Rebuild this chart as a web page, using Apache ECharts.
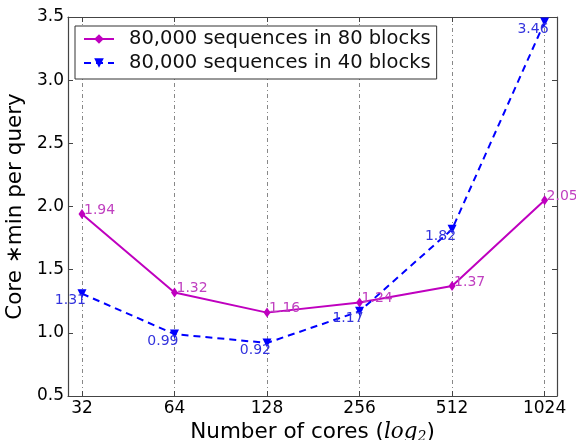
<!DOCTYPE html>
<html>
<head>
<meta charset="utf-8">
<script src="https://cdn.jsdelivr.net/npm/echarts@6/dist/echarts.min.js"></script>
<style>
  html, body { margin: 0; padding: 0; background: #fff; }
  #main { width: 576px; height: 440px; }
</style>
</head>
<body>
<div id="main"></div>
<script>
var cores = [32, 64, 128, 256, 512, 1024];
var blocks80 = [1.94, 1.32, 1.16, 1.24, 1.37, 2.05];
var blocks40 = [1.31, 0.99, 0.92, 1.17, 1.82, 3.46];
var yTicks = [0.5, 1.0, 1.5, 2.0, 2.5, 3.0, 3.5];

var font = 'DejaVu Sans';
var purple = '#bf00bf';
var blue = '#0000ff';

function pairs (vals) {
    return cores.map(function (c, i) { return [c, vals[i]] })
}

var myChart = echarts.init(document.getElementById('main'))
myChart.setOption({
    animation: false,
    textStyle: { fontFamily: font },
    grid: { left: 68, right: 19, top: 17, bottom: 44, outerBoundsMode: 'none', containLabel: false },
    legend: {
        left: 75,
        top: 26,
        orient: 'vertical',
        backgroundColor: '#fff',
        borderColor: '#333',
        borderWidth: 1,
        borderRadius: 0,
        padding: [3, 6, 6, 8],
        itemGap: 4,
        itemWidth: 30,
        itemHeight: 12,
        textStyle: { fontSize: 19.5, color: '#111', fontFamily: font, padding: [0, 0, 0, 10] },
        data: ['80,000 sequences in 80 blocks', '80,000 sequences in 40 blocks']
    },
    xAxis: [{
        type: 'log',
        logBase: 2,
        min: 28.82,
        max: 1123.6,
        name: 'Number of cores ({i|log}{s|2})',
        nameLocation: 'middle',
        nameGap: 19,
        nameTextStyle: {
            fontSize: 21.5, color: '#000', fontFamily: font,
            rich: {
                i: { fontSize: 21.5, fontStyle: 'italic', fontFamily: 'DejaVu Serif', color: '#000' },
                s: { fontSize: 14, fontStyle: 'italic', fontFamily: 'DejaVu Serif', color: '#000', verticalAlign: 'bottom', padding: [9, 0, 0, 0] }
            }
        },
        axisLine: { lineStyle: { color: '#444', width: 1.2 } },
        axisTick: { inside: true, length: 5, lineStyle: { color: '#444' } },
        axisLabel: {
            fontSize: 17, color: '#000', margin: 4, showMinLabel: false, showMaxLabel: false,
            formatter: function (v) { return Math.round(v) }
        },
        splitLine: { show: true, lineStyle: { color: '#888', type: [4, 3, 1, 3], width: 1 } }
    }, {
        type: 'log',
        logBase: 2,
        min: 28.82,
        max: 1123.6,
        position: 'top',
        axisLine: { lineStyle: { color: '#444', width: 1.2 } },
        axisTick: { inside: true, length: 5, lineStyle: { color: '#444' } },
        axisLabel: { show: false },
        splitLine: { show: false }
    }],
    yAxis: [{
        type: 'value',
        min: yTicks[0],
        max: yTicks[yTicks.length - 1],
        interval: 0.5,
        name: 'Core \u2217min per query',
        nameLocation: 'middle',
        nameGap: 32,
        nameTextStyle: { fontSize: 21.5, color: '#000', fontFamily: font },
        axisLine: { show: true, lineStyle: { color: '#444', width: 1.2 } },
        axisTick: { show: true, inside: true, length: 5, lineStyle: { color: '#444' } },
        axisLabel: { fontSize: 17, color: '#000', margin: 4, formatter: function (v) { return v.toFixed(1) } },
        splitLine: { show: false }
    }, {
        type: 'value',
        min: yTicks[0],
        max: yTicks[yTicks.length - 1],
        interval: 0.5,
        position: 'right',
        axisLine: { show: true, lineStyle: { color: '#444', width: 1.2 } },
        axisTick: { show: true, inside: true, length: 5, lineStyle: { color: '#444' } },
        axisLabel: { show: false },
        splitLine: { show: false }
    }],
    series: [{
        name: '80,000 sequences in 80 blocks',
        type: 'line',
        data: pairs(blocks80),
        symbol: 'diamond',
        symbolSize: [7, 10],
        itemStyle: { color: purple },
        lineStyle: { color: purple, width: 2 },
        label: {
            show: true,
            position: 'inside',
            align: 'left',
            verticalAlign: 'bottom',
            offset: [2, 3],
            fontSize: 14,
            color: '#c040c0',
            formatter: function (p) { return p.value[1].toFixed(2) }
        }
    }, {
        name: '80,000 sequences in 40 blocks',
        type: 'line',
        data: pairs(blocks40),
        symbol: 'triangle',
        symbolRotate: 180,
        symbolSize: 9,
        itemStyle: { color: blue },
        lineStyle: { color: blue, width: 2, type: [7, 5] },
        label: {
            show: true,
            position: 'inside',
            align: 'right',
            verticalAlign: 'top',
            offset: [4, 0],
            fontSize: 14,
            color: '#3333dd',
            formatter: function (p) { return p.value[1].toFixed(2) }
        }
    }]
})
</script>
</body>
</html>
